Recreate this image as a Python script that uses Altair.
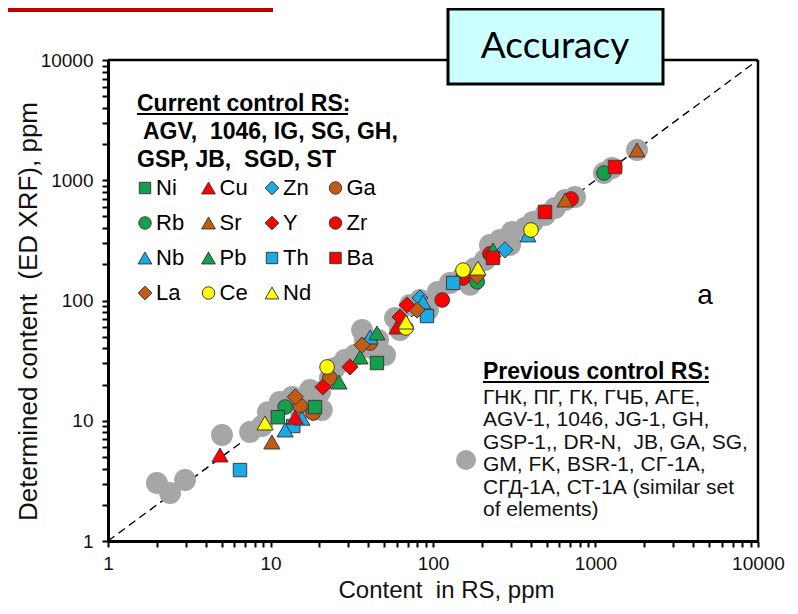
import altair as alt
import pandas as pd

# ---------------- data ----------------
# previous control RS (grey)
prev_x = [2.00, 2.41, 2.98, 5.03, 7.48, 8.87, 9.65, 11.4, 13.6, 15.2, 18.0, 20.7, 20.2, 23.2,
          24.9, 28.7, 33.1, 38.1, 36.6, 45.9, 50.7, 58.4, 62.7, 72.2, 83.2, 93.1, 107, 127,
          151, 181, 209, 224, 258, 298, 306, 368, 412, 489, 563, 649, 748, 1128, 1263, 1800,
          169, 17.5, 42.1]
prev_y = [3.04, 2.51, 3.22, 7.61, 8.06, 9.04, 11.8, 14.3, 15.8, 12.3, 13.5, 12.3, 17.3, 22.7,
          27.5, 32.0, 35.2, 46.9, 56.9, 46.9, 35.2, 71.5, 56.9, 91.8, 101, 83.4, 118, 140,
          154, 186, 217, 289, 319, 289, 371, 401, 450, 514, 588, 685, 726, 1148, 1265, 1785,
          135, 18.0, 40.3]

# current control RS, per element: (content in RS, determined content)
zr_x = [114, 153, 224, 707];        zr_y = [101, 154, 244, 698]
ga_x = [15.2, 18.3, 23.2, 41.0];    ga_y = [13.3, 11.6, 22.7, 44.3]
rb_x = [12.3, 187, 1128];           rb_y = [13.0, 143, 1148]
th_x = [6.49, 13.8, 91.8, 133];     th_y = [3.89, 9.04, 74.3, 140]
zn_x = [83.2, 277];                 zn_y = [105, 264]
nb_x = [12.3, 15.6, 41.0, 86.8, 384]; nb_y = [8.38, 10.5, 49.7, 97.2, 351]
ni_x = [11.1, 18.8, 45.2];          ni_y = [10.7, 13.0, 30.2]
pb_x = [26.4, 35.6, 45.2, 234];     pb_y = [21.0, 33.9, 53.7, 263]
cu_x = [4.89, 14.2, 60.0];          cu_y = [5.19, 10.7, 60.2]
sr_x = [10.2, 649, 1800];           sr_y = [6.66, 685, 1785]
la_x = [14.2, 36.6, 79.7, 187];     la_y = [15.8, 42.6, 83.4, 160]
y_x = [21.0, 30.8, 62.7, 69.2];     y_y = [19.1, 28.0, 72.9, 91.8]
ba_x = [234, 489, 1318];            ba_y = [226, 545, 1289]
ce_x = [22.3, 68.2, 153, 401];      ce_y = [28.0, 59.1, 179, 386]
nd_x = [9.25, 68.2, 189];           nd_y = [9.58, 66.2, 186]

legend_order = ["Ni", "Cu", "Zn", "Ga", "Rb", "Sr", "Y", "Zr",
                "Nb", "Pb", "Th", "Ba", "La", "Ce", "Nd"]

axis_ticks = [m * 10 ** e for e in range(4) for m in range(1, 10)] + [10000]
major_ticks = [1, 10, 100, 1000, 10000]

current_lines = ["Current control RS:", "AGV,\u00a0 1046, IG, SG, GH,", "GSP, JB,\u00a0 SGD, ST"]
previous_lines = ["Previous control RS:", "\u00a0ГНК, ПГ, ГК, ГЧБ, АГЕ,", "AGV-1, 1046, JG-1, GH,",
                  "GSP-1,, DR-N,\u00a0 JB, GA, SG,", "GM, FK, BSR-1, СГ-1А,",
                  "СГД-1А, СТ-1А (similar set", "of elements)"]

# ---------------- styles ----------------
GREEN, RED, BLUE, BROWN, YELLOW = "#12A04C", "#FF0000", "#1CAAE6", "#C25C14", "#FFFF00"
style = {
    "Ni": ("square", GREEN), "Cu": ("triangle-up", RED), "Zn": ("diamond", BLUE),
    "Ga": ("circle", BROWN), "Rb": ("circle", GREEN), "Sr": ("triangle-up", BROWN),
    "Y": ("diamond", RED), "Zr": ("circle", RED), "Nb": ("triangle-up", BLUE),
    "Pb": ("triangle-up", GREEN), "Th": ("square", BLUE), "Ba": ("square", RED),
    "La": ("diamond", BROWN), "Ce": ("circle", YELLOW), "Nd": ("triangle-up", YELLOW),
}
shape_size = {"circle": 215, "square": 180, "triangle-up": 260, "diamond": 260}
FONT = "Liberation Sans"
W, H = 650, 481

series = [("Zr", zr_x, zr_y), ("Ga", ga_x, ga_y), ("Rb", rb_x, rb_y), ("Th", th_x, th_y),
          ("Zn", zn_x, zn_y), ("Nb", nb_x, nb_y), ("Ni", ni_x, ni_y), ("Pb", pb_x, pb_y),
          ("Cu", cu_x, cu_y), ("Sr", sr_x, sr_y), ("La", la_x, la_y), ("Y", y_x, y_y),
          ("Ba", ba_x, ba_y), ("Ce", ce_x, ce_y), ("Nd", nd_x, nd_y)]
rows = []
for el, xs, ys in series:
    shp, col = style[el]
    for a, b in zip(xs, ys):
        rows.append({"el": el, "x": a, "y": b, "shape": shp, "col": col, "size": shape_size[shp]})
cur_df = pd.DataFrame(rows)
prev_df = pd.DataFrame({"x": prev_x, "y": prev_y})
diag_df = pd.DataFrame({"x": [1, 10000], "y": [1, 10000]})
one = pd.DataFrame({"k": [0]})

lab_expr = "indexof([1,10,100,1000,10000], datum.value) >= 0 ? datum.label : ''"
xscale = alt.Scale(type="log", domain=[1, 10000], nice=False)
yscale = alt.Scale(type="log", domain=[1, 10000], nice=False)
X = alt.X("x:Q", scale=xscale, axis=alt.Axis(
    values=axis_ticks, labelExpr=lab_expr, format="d", grid=False, labelFlush=False,
    labelOverlap=False, labelFontSize=19, labelFont=FONT, labelColor="#111",
    tickSize=6, tickWidth=2, tickColor="black", domainColor="black", domainWidth=3,
    labelPadding=7, title="Content\u00a0 in RS, ppm", titleFont=FONT, titleFontSize=24,
    titleFontWeight="normal", titleColor="#111", titleX=338, titleY=49,
    titleBaseline="middle", titleAlign="center"))
Y = alt.Y("y:Q", scale=yscale, axis=alt.Axis(
    values=axis_ticks, labelExpr=lab_expr, format="d", grid=False, labelOverlap=False,
    labelFontSize=19, labelFont=FONT, labelColor="#111", labelFlush=False,
    tickSize=6, tickWidth=2, tickColor="black", domainColor="black", domainWidth=3,
    labelPadding=9, title="Determined content\u00a0 (ED XRF), ppm", titleFont=FONT,
    titleFontSize=26, titleFontWeight="normal", titleColor="#111", titleX=-80,
    titleY=251, titleBaseline="middle", titleAlign="center", titleAngle=-90))

diag = alt.Chart(diag_df).mark_line(color="black", strokeWidth=1.4, strokeDash=[8, 5]).encode(x=X, y=Y)
grey = alt.Chart(prev_df).mark_circle(size=480, color="#A6A6A6", opacity=1).encode(x=X, y=Y)
pts = alt.Chart(cur_df).mark_point(filled=True, opacity=1, stroke="#3a3a3a", strokeWidth=1).encode(
    x=X, y=Y,
    shape=alt.Shape("shape:N", scale=None),
    fill=alt.Fill("col:N", scale=None),
    size=alt.Size("size:Q", scale=None),
)

# frame (top & right)
frame_top = alt.Chart(one).mark_rule(color="black", strokeWidth=2.5).encode(
    x=alt.value(0), x2=alt.value(W), y=alt.value(0))
frame_right = alt.Chart(one).mark_rule(color="black", strokeWidth=2.5).encode(
    x=alt.value(W), y=alt.value(0), y2=alt.value(H))

PX = alt.X("px:Q", scale=None, axis=None)
PY = alt.Y("py:Q", scale=None, axis=None)

# current-control text
cur_txt = pd.DataFrame({"t": current_lines, "px": [29, 35, 29],
                        "py": [44 + 28 * i for i in range(len(current_lines))]})
cur_text = alt.Chart(cur_txt).mark_text(align="left", baseline="middle", font=FONT,
                                        fontSize=23, fontWeight="bold", color="black").encode(
    x=PX, y=PY, text="t:N")
ul1 = alt.Chart(one).mark_rule(color="black", strokeWidth=2).encode(
    x=alt.value(29), x2=alt.value(240), y=alt.value(54))

# legend grid
leg_rows = []
for i, el in enumerate(legend_order):
    r, c = divmod(i, 4)
    shp, col = style[el]
    leg_rows.append({"el": el, "shape": shp, "col": col, "size": shape_size[shp] * 0.72,
                     "px": 37 + 63.5 * c, "tx": 48 + 63.5 * c, "py": 128 + 35 * r})
leg_df = pd.DataFrame(leg_rows)
leg_sym = alt.Chart(leg_df).mark_point(filled=True, opacity=1, stroke="#3a3a3a", strokeWidth=1).encode(
    x=PX, y=PY, shape=alt.Shape("shape:N", scale=None), fill=alt.Fill("col:N", scale=None),
    size=alt.Size("size:Q", scale=None))
leg_txt = alt.Chart(leg_df).mark_text(align="left", baseline="middle", font=FONT, fontSize=22,
                                      color="black").encode(
    x=alt.X("tx:Q", scale=None, axis=None), y=PY, text="el:N")

# previous-control text
prev_txt = pd.DataFrame({"t": previous_lines[1:], "px": 375,
                         "py": [338 + 22.4 * i for i in range(len(previous_lines) - 1)]})
prev_head = alt.Chart(pd.DataFrame({"t": [previous_lines[0]], "px": [375], "py": [312]})).mark_text(
    align="left", baseline="middle", font=FONT, fontSize=23, fontWeight="bold", color="black").encode(
    x=PX, y=PY, text="t:N")
ul2 = alt.Chart(one).mark_rule(color="black", strokeWidth=2).encode(
    x=alt.value(375), x2=alt.value(601), y=alt.value(322))
prev_text = alt.Chart(prev_txt).mark_text(align="left", baseline="middle", font=FONT,
                                          fontSize=21, color="#111").encode(x=PX, y=PY, text="t:N")
prev_sym = alt.Chart(one).mark_circle(size=400, color="#A6A6A6", opacity=1).encode(
    x=alt.value(358), y=alt.value(400))

a_lab = alt.Chart(one).mark_text(font=FONT, fontSize=28, align="center", baseline="middle",
                                 color="black").encode(x=alt.value(597), y=alt.value(236),
                                                       text=alt.value("a"))

# "Accuracy" box and slide bar
box = alt.Chart(one).mark_rect(fill="#CCFFFF", stroke="black", strokeWidth=3).encode(
    x=alt.value(340), x2=alt.value(555), y=alt.value(-51), y2=alt.value(24))
box_txt = alt.Chart(one).mark_text(font="Lato", fontSize=37, align="center", baseline="middle",
                                   color="black").encode(x=alt.value(447), y=alt.value(-13),
                                                         text=alt.value("Accuracy"))
bar = alt.Chart(one).mark_rect(color="#C00000").encode(
    x=alt.value(-100), x2=alt.value(165), y=alt.value(-52), y2=alt.value(-48))

chart = alt.layer(
    diag, grey, pts, frame_top, frame_right, cur_text, ul1, leg_sym, leg_txt,
    prev_head, ul2, prev_text, prev_sym, a_lab, box, box_txt, bar
).properties(
    width=W, height=H,
    autosize=alt.AutoSizeParams(type="none"),
    padding={"left": 100, "top": 52, "right": 32, "bottom": 65},
).configure_view(stroke=None)

chart.save("out.html", embed_options={"renderer": "svg", "actions": False})
